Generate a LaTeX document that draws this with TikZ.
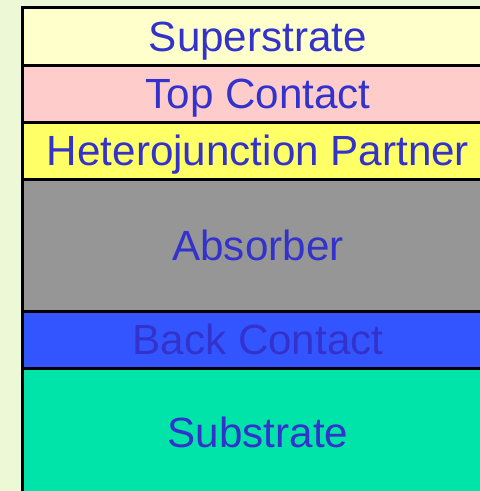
\documentclass[tikz,border=0pt]{standalone}
\usepackage{fontspec}
\setmainfont{Liberation Sans}
\usepackage{xcolor}
\usetikzlibrary{positioning}

\definecolor{pagebg}{HTML}{EDF8D6}
\definecolor{labelblue}{HTML}{3333CC}
\definecolor{superfill}{HTML}{FFFFCC}
\definecolor{topfill}{HTML}{FFCCCC}
\definecolor{heterofill}{HTML}{FFFF66}
\definecolor{absfill}{HTML}{969696}
\definecolor{backfill}{HTML}{3355FF}
\definecolor{subfill}{HTML}{00E4A9}

\begin{document}
\begin{tikzpicture}[x=1pt, y=-1pt, node distance=0pt,
    layer/.style={rectangle, draw=black, line width=3pt, outer sep=0pt, inner sep=0pt,
      minimum width=472pt, text height=30pt, text depth=0pt,
      text=labelblue, font=\fontsize{42.2}{50}\selectfont}]

    % Background
    \useasboundingbox (0,0) rectangle (480,491);
    \fill[pagebg] (0,0) rectangle (480,491);
    \clip (0,0) rectangle (480,491);

    % Layers
    \node[layer, fill=superfill, minimum height=58pt, anchor=north west] (super) at (22,7) {Superstrate};
    \node[layer, fill=topfill, minimum height=57pt, below=of super] (top) {Top Contact};
    \node[layer, fill=heterofill, minimum height=57pt, below=of top] (hetero) {Heterojunction Partner};
    \node[layer, fill=absfill, minimum height=132pt, below=of hetero] (absorber) {Absorber};
    \node[layer, fill=backfill, minimum height=57pt, below=of absorber] (back) {Back Contact};
    \node[layer, fill=subfill, minimum height=128pt, below=of back] (substrate) {Substrate};
\end{tikzpicture}
\end{document}
